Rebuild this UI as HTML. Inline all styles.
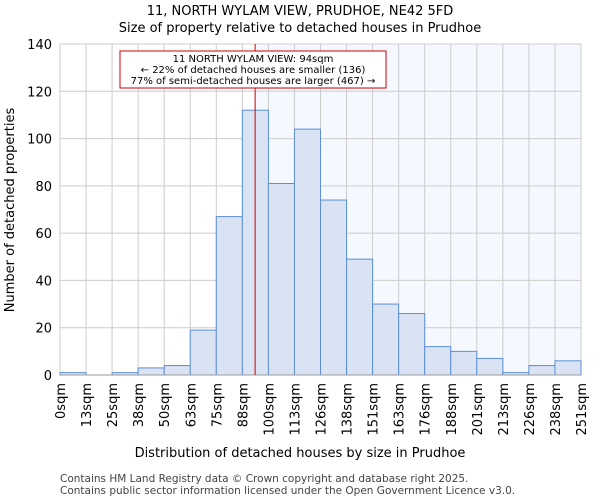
<!DOCTYPE html>
<html><head><meta charset="utf-8"><style>
body{margin:0;background:#fff;font-family:"DejaVu Sans","Liberation Sans",sans-serif}
svg text{font-family:"DejaVu Sans","Liberation Sans",sans-serif}
</style></head><body>
<svg id="c" width="600" height="500">
<text x="300" y="15" font-size="13" text-anchor="middle">11, NORTH WYLAM VIEW, PRUDHOE, NE42 5FD</text>
<text x="300" y="32" font-size="13" text-anchor="middle">Size of property relative to detached houses in Prudhoe</text>
<g id="plot"></g>
<text x="300" y="457" font-size="13" text-anchor="middle">Distribution of detached houses by size in Prudhoe</text>
<text x="14" y="210" font-size="13" text-anchor="middle" transform="rotate(-90 14 210)">Number of detached properties</text>
<text x="60" y="482" font-size="10.5" fill="#444">Contains HM Land Registry data © Crown copyright and database right 2025.</text>
<text x="60" y="494" font-size="10.5" fill="#444">Contains public sector information licensed under the Open Government Licence v3.0.</text>
</svg>
<script>
const categories=["0sqm","13sqm","25sqm","38sqm","50sqm","63sqm","75sqm","88sqm","100sqm","113sqm","126sqm","138sqm","151sqm","163sqm","176sqm","188sqm","201sqm","213sqm","226sqm","238sqm","251sqm"];
const counts=[1,0,1,3,4,19,67,112,81,104,74,49,30,26,12,10,7,1,4,6];
const yTicks=[0,20,40,60,80,100,120,140];
const propertySize=94;
const binStart=0, binWidth=12.55;
const X0=60,X1=581,Y0=375,Y1=44,YMAX=140;
const bw=(X1-X0)/counts.length;
const xs=v=>X0+(v-binStart)/binWidth*bw;
const ys=v=>Y0-(v/YMAX)*(Y0-Y1);
const NS="http://www.w3.org/2000/svg";
const g=document.getElementById('plot');
function el(t,a){const e=document.createElementNS(NS,t);for(const k in a)e.setAttribute(k,a[k]);g.appendChild(e);return e;}
const px=xs(propertySize);
let sh=el('rect',{x:px,y:Y1,width:X1-px,height:Y0-Y1,fill:'#f5f8fe'});


yTicks.forEach(t=>{
 let l=el('line',{x1:X0,x2:X1,y1:ys(t),y2:ys(t),stroke:'#ccc'});
 
 
 let tx=el('text',{x:X0-8,y:ys(t)+5,'font-size':13,'text-anchor':'end'});
 tx.textContent=t;
 
 
});
categories.forEach((c,i)=>{
 const x=X0+i*bw;
 let l=el('line',{x1:x,x2:x,y1:Y1,y2:Y0,stroke:'#ccc'});
 
 
 let tx=el('text',{x:x+5,y:Y0+8,'font-size':13,'text-anchor':'end',transform:`rotate(-90 ${x+5} ${Y0+8})`});
 tx.textContent=c;
 
 
});
counts.forEach((v,i)=>{
 let r=el('rect',{x:X0+i*bw,y:ys(v),width:bw,height:Y0-ys(v),fill:'#dae3f3',stroke:'#5b8fd6','stroke-width':1});
 
 
});
let ax=el('line',{x1:X0,x2:X1,y1:Y0,y2:Y0,stroke:'#999'});


let pl=el('line',{x1:px,x2:px,y1:Y1,y2:Y0,stroke:'#c00','stroke-width':1});


let box=el('rect',{x:120,y:51,width:266,height:37,fill:'#fff',stroke:'#c00','stroke-width':1});


["11 NORTH WYLAM VIEW: 94sqm","← 22% of detached houses are smaller (136)","77% of semi-detached houses are larger (467) →"].forEach((s,i)=>{
 let t=el('text',{x:253,y:62+i*11,'font-size':10,'text-anchor':'middle'});
 t.textContent=s;
 
 
});
</script>
</body></html>
